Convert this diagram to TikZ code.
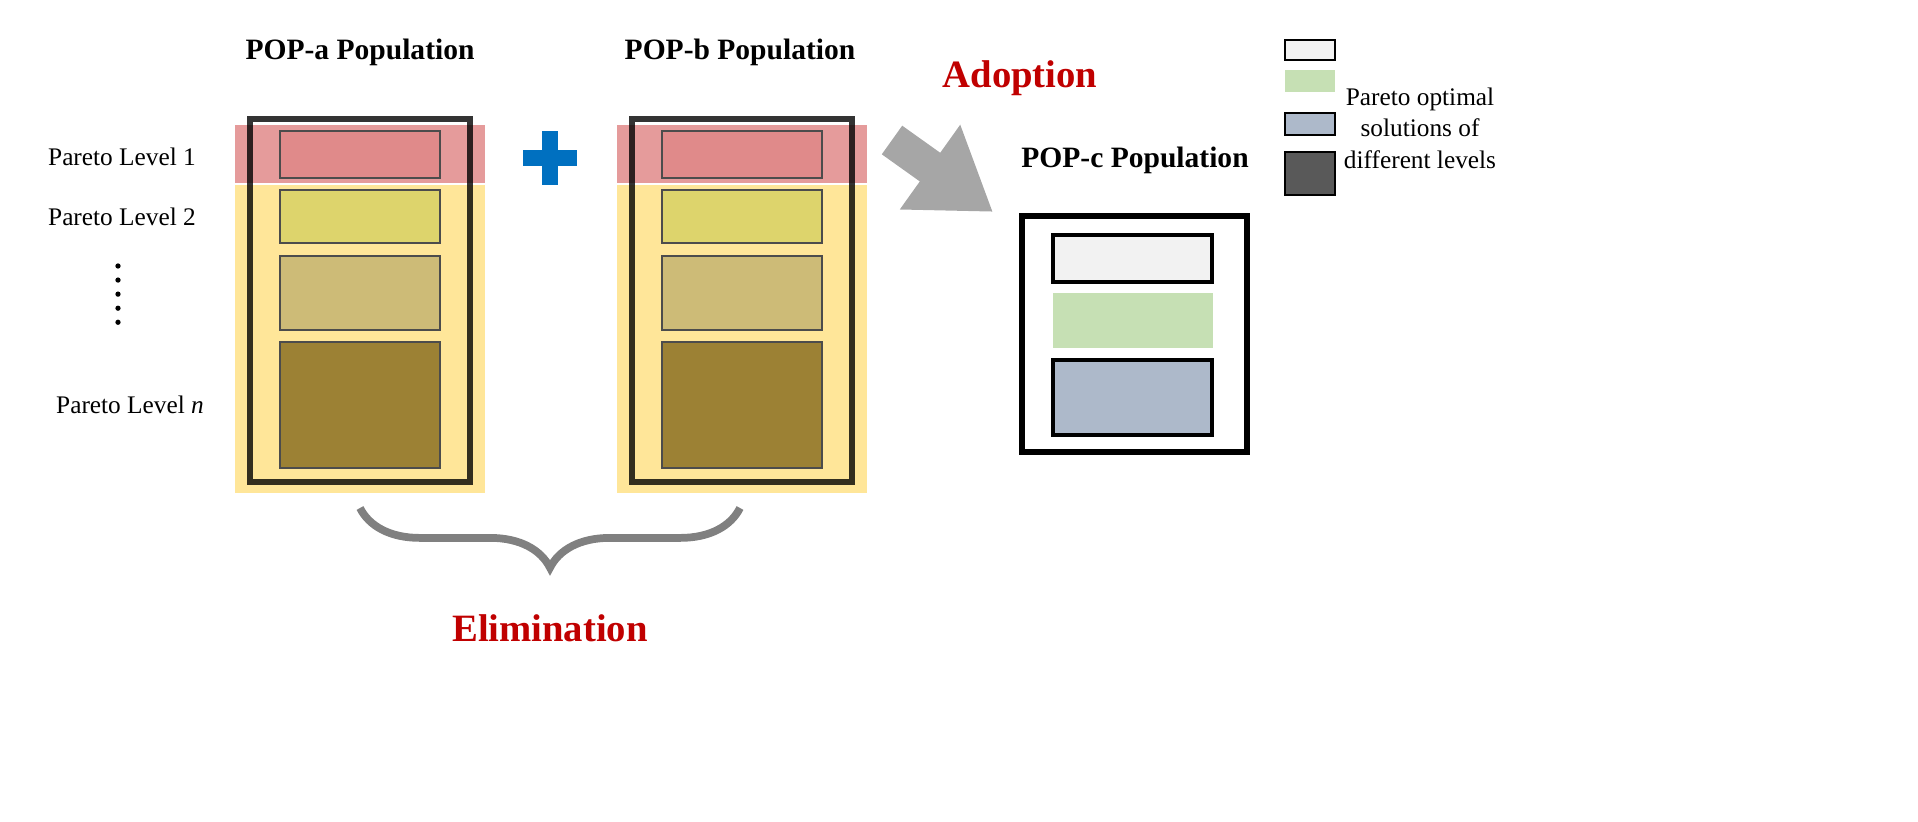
\documentclass[tikz,border=0pt]{standalone}
\usepackage{fontspec}
\setmainfont{Liberation Serif}
\usetikzlibrary{decorations.pathreplacing,arrows.meta}
\definecolor{ybg}{HTML}{FFE699}
\definecolor{rband}{HTML}{E08A8A}
\definecolor{lv2}{HTML}{DDD46C}
\definecolor{lv3}{HTML}{CDBB77}
\definecolor{lv4}{HTML}{9C8134}
\definecolor{dred}{HTML}{C00000}
\definecolor{pblue}{HTML}{0070C0}
\tikzset{
 lab/.style={font=\fontsize{7.2}{9}\selectfont},
 ttl/.style={font=\bfseries\fontsize{8.4}{10}\selectfont},
 red/.style={font=\bfseries\fontsize{11}{13}\selectfont,text=dred},
 inner/.style={draw=black!70,line width=0.8pt},
 frame/.style={draw=black,line width=1.6pt},
}
\begin{document}
\begin{tikzpicture}[x=0.01cm,y=-0.01cm]
\useasboundingbox (0,0) rectangle (1918,821);
% populations
\foreach \dx/\nm in {0/a,382/b}{
 \begin{scope}[xshift=\dx*0.01cm]
 \fill[ybg] (235,185) rectangle (485,493);
 \fill[rband,opacity=0.85] (235,125) rectangle (485,183);
 \filldraw[inner,fill=rband] (280,131) rectangle (440,178);
 \filldraw[inner,fill=lv2] (280,190) rectangle (440,243);
 \filldraw[inner,fill=lv3] (280,256) rectangle (440,330);
 \filldraw[inner,fill=lv4] (280,342) rectangle (440,468);
 \draw[frame,draw opacity=0.8] (250,119) rectangle (470,482);
 \end{scope}}
\node[ttl] (ta) at (360,52) {POP-a Population};
\node[ttl] (tb) at (740,52) {POP-b Population};
% plus
\node[inner sep=0pt,minimum width=0pt] (plus) at (550,158) {};
\fill[pblue] (523,150) rectangle (577,166);
\fill[pblue] (542,131) rectangle (558,185);
% labels
\node[lab] (l1) at (122,157) {Pareto Level 1};
\node[lab] (l2) at (122,217) {Pareto Level 2};
\draw[line width=1.5pt,line cap=round,dash pattern=on 0pt off 4pt] (118,266) -- (118,330);
\node[lab] (ln) at (130,405) {Pareto Level \textit{n}};
% arrow
\coordinate (as) at (892,140);
\coordinate (ae) at (993,212);
\draw[-{Triangle[length=22pt,width=28pt]},line width=10pt,draw=black!35,fill=black!35] (as) -- (ae);
\node[red] (ad) at (1020,78) {Adoption};
% POP-c
\node[ttl] (tc) at (1135,160) {POP-c Population};
\draw[frame] (1022,216) rectangle (1247,452);
\filldraw[draw=black,line width=1pt,fill=black!5] (1053,235) rectangle (1212,282);
\fill[fill={rgb,255:red,198;green,224;blue,180}] (1053,293) rectangle (1213,348);
\filldraw[draw=black,line width=1pt,fill={rgb,255:red,173;green,185;blue,202}] (1053,360) rectangle (1212,435);
% legend
\filldraw[draw=black,line width=0.8pt,fill=black!5] (1285,40) rectangle (1335,60);
\fill[fill={rgb,255:red,198;green,224;blue,180}] (1285,70) rectangle (1335,92);
\filldraw[draw=black,line width=0.8pt,fill={rgb,255:red,173;green,185;blue,202}] (1285,113) rectangle (1335,135);
\filldraw[draw=black,line width=0.8pt,fill=black!65] (1285,152) rectangle (1335,195);
\node[lab,align=center] (lg) at (1420,128) {Pareto optimal\\solutions of\\different levels};
% brace
\draw[decorate,decoration={brace,mirror,amplitude=17pt},line width=2.2pt,draw=black!50] (360,508) -- (740,508);
\node[red] (el) at (550,628) {Elimination};
\end{tikzpicture}
\end{document}
